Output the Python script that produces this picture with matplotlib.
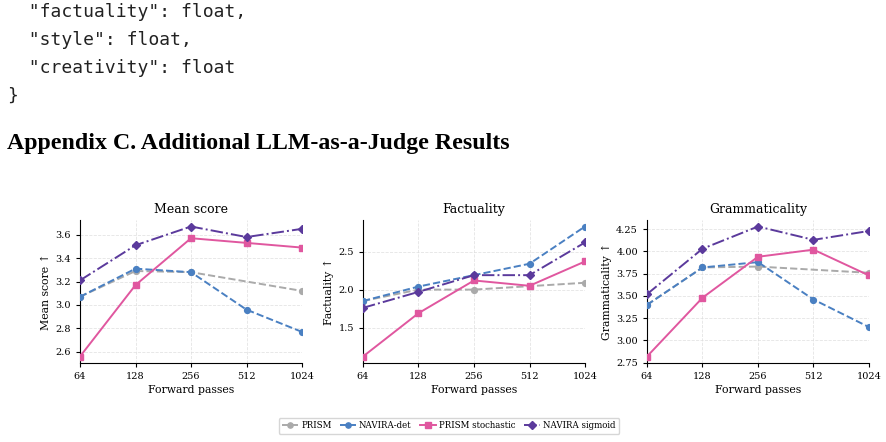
import matplotlib
matplotlib.use("Agg")
import matplotlib.pyplot as plt

# forward-pass budgets
passes = [64, 128, 256, 512, 1024]
prism_passes = [64, 128, 256, 1024]

# Mean score
mean_prism = [3.07, 3.29, 3.28, 3.12]
mean_det = [3.07, 3.31, 3.28, 2.96, 2.77]
mean_stoch = [2.56, 3.17, 3.57, 3.53, 3.49]
mean_sig = [3.21, 3.51, 3.67, 3.58, 3.65]

# Factuality
fact_prism = [1.85, 2.00, 2.00, 2.09]
fact_det = [1.85, 2.04, 2.19, 2.34, 2.83]
fact_stoch = [1.12, 1.69, 2.12, 2.05, 2.37]
fact_sig = [1.76, 1.97, 2.19, 2.19, 2.62]

# Grammaticality
gram_prism = [3.40, 3.82, 3.83, 3.76]
gram_det = [3.40, 3.82, 3.88, 3.46, 3.15]
gram_stoch = [2.82, 3.48, 3.94, 4.02, 3.73]
gram_sig = [3.52, 4.03, 4.28, 4.13, 4.23]

panels = [
    ("Mean score", "Mean score \u2191", mean_prism, mean_det, mean_stoch, mean_sig),
    ("Factuality", "Factuality \u2191", fact_prism, fact_det, fact_stoch, fact_sig),
    ("Grammaticality", "Grammaticality \u2191", gram_prism, gram_det, gram_stoch, gram_sig),
]

GRAY = "#aaaaaa"
BLUE = "#4a80c2"
PINK = "#e0579f"
PURPLE = "#5b3a9c"

fig = plt.figure(figsize=(8.87, 4.42), dpi=100)

# page text above the figure
code_lines = ['  "factuality": float,', '  "style": float,', '  "creativity": float', '}']
for i, line in enumerate(code_lines):
    fig.text(7 / 887, 1 - (12 + i * 27.8) / 442, line, family="DejaVu Sans Mono",
             fontsize=13, va="center", ha="left", color="#222222")
fig.text(7 / 887, 1 - 143 / 442, "Appendix C. Additional LLM-as-a-Judge Results",
         family="Liberation Serif", weight="bold", fontsize=17.2, va="center", ha="left")

lefts = [80, 363, 647]
handles = None
for left, (title, ylabel, pr, det, st, sig) in zip(lefts, panels):
    ax = fig.add_axes([left / 887, 1 - 363 / 442, 222 / 887, 143 / 442])
    h1, = ax.plot(prism_passes, pr, "o--", color=GRAY, lw=1.4, ms=4.2, label="PRISM", zorder=2)
    h2, = ax.plot(passes, det, "o--", color=BLUE, lw=1.4, ms=4.2, label="NAVIRA-det", zorder=3)
    h3, = ax.plot(passes, st, "s-", color=PINK, lw=1.4, ms=4.2, label="PRISM stochastic", zorder=4)
    h4, = ax.plot(passes, sig, "D-.", color=PURPLE, lw=1.4, ms=4.2, label="NAVIRA sigmoid", zorder=5)
    handles = [h1, h2, h3, h4]
    ax.set_xscale("log", base=2)
    ax.set_xticks(passes)
    ax.set_xticklabels([str(p) for p in passes])
    ax.minorticks_off()
    ax.set_xlim(64, 1024)
    ax.set_title(title, family="DejaVu Serif", fontsize=9, pad=5)
    ax.set_xlabel("Forward passes", family="DejaVu Serif", fontsize=7.8, labelpad=3)
    ax.set_ylabel(ylabel, family="DejaVu Serif", fontsize=7.8, labelpad=3)
    ax.grid(True, ls="--", lw=0.6, color="#dddddd", alpha=0.8)
    ax.spines["top"].set_visible(False)
    ax.spines["right"].set_visible(False)
    ax.tick_params(labelsize=7, length=3, width=0.8)
    for lab in ax.get_xticklabels() + ax.get_yticklabels():
        lab.set_family("DejaVu Serif")
    ax.set_axisbelow(True)
    if title == "Mean score":
        ax.set_yticks([2.6, 2.8, 3.0, 3.2, 3.4, 3.6])
    elif title == "Factuality":
        ax.set_yticks([1.5, 2.0, 2.5])
    ax.margins(x=0)

fig.legend(handles=handles, loc="center", bbox_to_anchor=(449 / 887, 1 - 426 / 442), ncol=4,
           prop={"family": "DejaVu Serif", "size": 6.2}, frameon=True, edgecolor="#cccccc",
           handlelength=1.8, columnspacing=1.0, handletextpad=0.4, borderpad=0.4, markerscale=0.9)

fig.savefig("out.png", dpi=100)
